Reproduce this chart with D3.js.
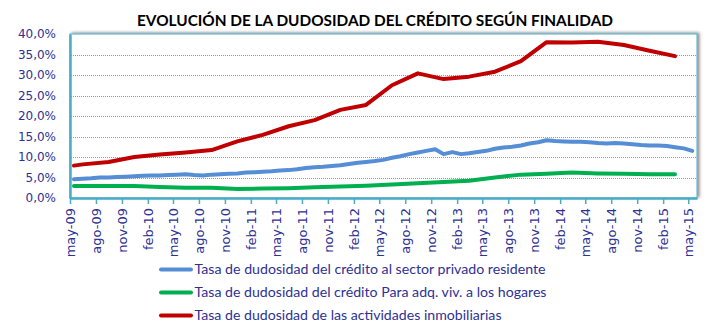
<!DOCTYPE html>
<html>
<head>
<meta charset="utf-8">
<script src="https://cdn.jsdelivr.net/npm/d3@7"></script>
<style>
  body { margin: 0; background: #fff; }
  svg { display: block; }
</style>
</head>
<body>
<svg id="chart" width="708" height="326"></svg>
<script>
// x axis labels (every 3 months)
var xTickLabels = ["may-09","ago-09","nov-09","feb-10","may-10","ago-10","nov-10","feb-11",
  "may-11","ago-11","nov-11","feb-12","may-12","ago-12","nov-12","feb-13","may-13","ago-13",
  "nov-13","feb-14","may-14","ago-14","nov-14","feb-15","may-15"];
var yTicks = [0, 5, 10, 15, 20, 25, 30, 35, 40];

// monthly series, may-09 .. may-15
var blueValues = [4.6,4.7,4.8,5.0,5.0,5.1,5.2,5.3,5.4,5.5,5.5,5.6,5.7,5.8,5.6,5.5,5.7,5.8,5.9,6.0,
  6.2,6.3,6.4,6.5,6.7,6.8,7.0,7.3,7.5,7.6,7.8,8.0,8.3,8.6,8.8,9.0,9.3,9.8,10.2,10.7,
  11.1,11.5,11.9,10.7,11.2,10.7,10.9,11.2,11.5,12.0,12.3,12.5,12.8,13.3,13.6,14.1,13.9,13.8,13.7,13.7,
  13.6,13.4,13.3,13.4,13.3,13.1,12.9,12.8,12.8,12.7,12.4,12.1,11.5];

// quarterly series
var quarterMonths = ["may-09","jun-09","sep-09","dic-09","mar-10","jun-10","sep-10","dic-10","mar-11",
  "jun-11","sep-11","dic-11","mar-12","jun-12","sep-12","dic-12","mar-13","jun-13","sep-13","dic-13",
  "mar-14","jun-14","sep-14","dic-14","mar-15"];
var greenValues = [2.9,2.9,2.9,2.9,2.7,2.5,2.5,2.2,2.3,2.4,2.6,2.8,3.0,3.3,3.6,3.9,4.2,5.0,5.7,5.9,
  6.2,6.0,5.9,5.8,5.8];
var redValues = [7.9,8.2,8.8,10.0,10.6,11.1,11.7,13.8,15.4,17.5,19.0,21.5,22.7,27.5,30.4,29.0,29.6,30.8,33.4,38.0,
  37.9,38.1,37.3,35.9,34.6];

var seriesNames = ["Tasa de dudosidad del crédito al sector privado residente",
  "Tasa de dudosidad del crédito Para adq. viv. a los hogares",
  "Tasa de dudosidad de las actividades inmobiliarias"];
var seriesColors = ["#558ED5", "#00B050", "#C00000"];

var mesIdx = {ene:0,feb:1,mar:2,abr:3,may:4,jun:5,jul:6,ago:7,sep:8,oct:9,nov:10,dic:11};
function parseMes(s, day) {
  var p = s.split("-");
  return new Date(2000 + +p[1], mesIdx[p[0]], day || 1);
}

var svg = d3.select("#chart");
var pLeft = 70, pRight = 697, pTop = 34, pBottom = 198;
var textColor = "#2E3192";
var axisColor = "#4BACC6";

var x = d3.scaleTime()
  .domain([parseMes("may-09"), parseMes("jun-15")])
  .range([pLeft, pRight]);
var y = d3.scaleLinear().domain([0, 40]).range([pBottom, pTop]);

var start = parseMes("may-09", 15);
var blueData = blueValues.map(function(v, i){
  return { date: d3.timeMonth.offset(start, i), v: v };
});
var greenData = quarterMonths.map(function(m, i){ return { date: parseMes(m, 15), v: greenValues[i] }; });
var redData = quarterMonths.map(function(m, i){ return { date: parseMes(m, 15), v: redValues[i] }; });

// shadow
var defs = svg.append("defs");
var f = defs.append("filter").attr("id", "shadow")
  .attr("x", "-5%").attr("y", "-20%").attr("width", "110%").attr("height", "140%");
f.append("feDropShadow").attr("dx", 2).attr("dy", -1).attr("stdDeviation", 1.6)
  .attr("flood-color", "#000").attr("flood-opacity", 0.45);

svg.append("rect")
  .attr("x", pLeft).attr("y", pTop)
  .attr("width", pRight - pLeft).attr("height", pBottom - pTop)
  .attr("fill", "#fff")
  .attr("stroke", axisColor).attr("stroke-width", 1)
  .attr("filter", "url(#shadow)");

// title
svg.append("text")
  .attr("x", 375).attr("y", 26)
  .attr("text-anchor", "middle")
  .attr("font-family", "Lato, 'Open Sans', sans-serif")
  .attr("font-weight", "bold")
  .attr("font-size", 16)
  .attr("textLength", 476).attr("lengthAdjust", "spacingAndGlyphs")
  .attr("fill", "#000")
  .text("EVOLUCIÓN DE LA DUDOSIDAD DEL CRÉDITO SEGÚN FINALIDAD");

// gridlines
svg.append("g").selectAll("line")
  .data(yTicks.filter(function(t){ return t > 0 && t < 40; }))
  .enter().append("line")
  .attr("x1", pLeft + 1).attr("x2", pRight - 1)
  .attr("y1", function(d){ return Math.round(y(d)) + 0.5; })
  .attr("y2", function(d){ return Math.round(y(d)) + 0.5; })
  .attr("stroke", "#9a9a9a")
  .attr("stroke-width", 1)
  .attr("stroke-dasharray", "1,1");

// y axis
var fmt = d3.formatLocale({ decimal: ",", thousands: ".", grouping: [3], currency: ["", "€"] });
var pct = fmt.format(".1f");
var yAxis = svg.append("g")
  .attr("transform", "translate(" + pLeft + ",0)")
  .call(d3.axisLeft(y).tickValues(yTicks).tickSize(0).tickPadding(14)
    .tickFormat(function(d){ return pct(d) + "%"; }));
yAxis.select(".domain").attr("stroke", axisColor).attr("stroke-width", 2.5);
yAxis.selectAll("text")
  .attr("font-family", "'DejaVu Sans', Verdana, sans-serif")
  .attr("font-size", 12)
  .attr("fill", textColor);

// x axis
var xAxis = svg.append("g")
  .attr("transform", "translate(0," + pBottom + ")")
  .call(d3.axisBottom(x)
    .tickValues(xTickLabels.map(function(s){ return parseMes(s); }))
    .tickSize(6).tickSizeOuter(0)
    .tickFormat(function(d, i){ return xTickLabels[i]; }));
xAxis.select(".domain").attr("stroke", axisColor).attr("stroke-width", 2.5);
xAxis.selectAll(".tick line").attr("stroke", axisColor).attr("stroke-width", 1.5);
xAxis.selectAll("text")
  .attr("font-family", "'DejaVu Sans', Verdana, sans-serif")
  .attr("font-size", 13)
  .attr("fill", textColor)
  .attr("text-anchor", "end")
  .attr("transform", "rotate(-90)")
  .attr("x", -10).attr("y", 0).attr("dy", "0.35em");

// lines
var line = d3.line()
  .x(function(d){ return x(d.date); })
  .y(function(d){ return y(d.v); });

[blueData, greenData, redData].forEach(function(data, i){
  svg.append("path")
    .datum(data)
    .attr("d", line)
    .attr("fill", "none")
    .attr("stroke", seriesColors[i])
    .attr("stroke-width", 4)
    .attr("stroke-linejoin", "round")
    .attr("stroke-linecap", "round");
});

// legend
var legendWidths = [351, 352, 307];
var legend = svg.append("g").selectAll("g")
  .data(seriesNames)
  .enter().append("g")
  .attr("transform", function(d, i){ return "translate(160," + (269.5 + i * 23) + ")"; });
legend.append("line")
  .attr("x1", 1).attr("x2", 31)
  .attr("stroke", function(d, i){ return seriesColors[i]; })
  .attr("stroke-width", 4)
  .attr("stroke-linecap", "round");
legend.append("text")
  .attr("x", 34.5).attr("dy", "0.35em")
  .attr("font-family", "Lato, sans-serif")
  .attr("font-size", 14)
  .attr("fill", textColor)
  .attr("textLength", function(d, i){ return legendWidths[i]; })
  .attr("lengthAdjust", "spacingAndGlyphs")
  .text(function(d){ return d; });
</script>
</body>
</html>
